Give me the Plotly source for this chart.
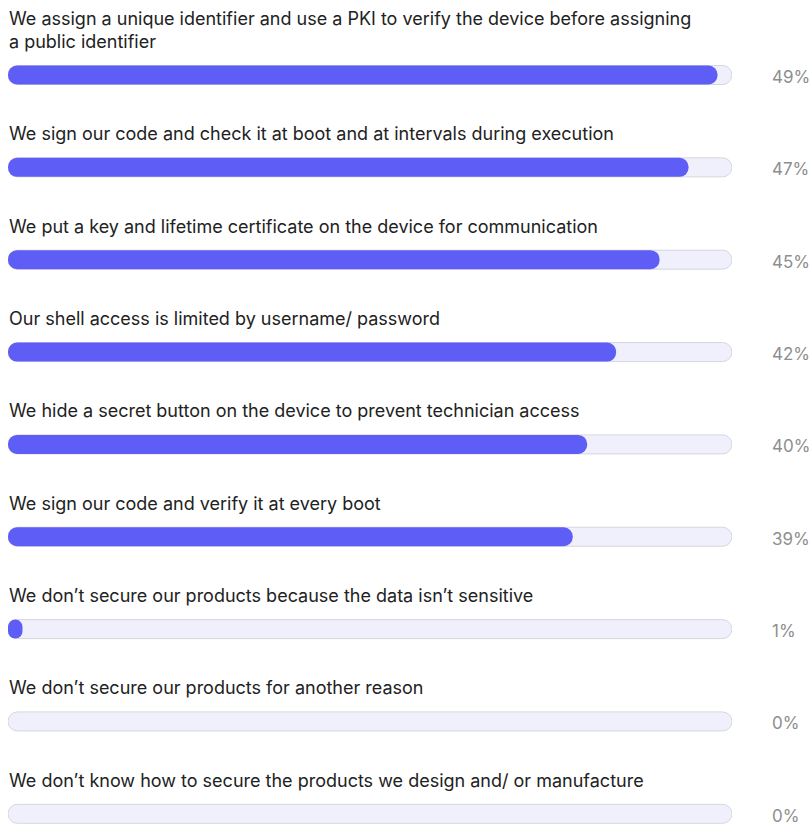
import plotly.graph_objects as go

# Survey answers, top to bottom
statements = [
    "We assign a unique identifier and use a PKI to verify the device before assigning<br>a public identifier",
    "We sign our code and check it at boot and at intervals during execution",
    "We put a key and lifetime certificate on the device for communication",
    "Our shell access is limited by username/ password",
    "We hide a secret button on the device to prevent technician access",
    "We sign our code and verify it at every boot",
    "We don\u2019t secure our products because the data isn\u2019t sensitive",
    "We don\u2019t secure our products for another reason",
    "We don\u2019t know how to secure the products we design and/ or manufacture",
]
shares = [49, 47, 45, 42, 40, 39, 1, 0, 0]
scale_max = 50

W, H = 811, 829
row_px = 92.35
first_px = 75
bar_px = 19

rows = list(range(len(statements)))
y_top = -first_px / row_px
y_bot = (H - first_px) / row_px
thick = bar_px / row_px
zeros = [0] * len(rows)

fig = go.Figure()

# Background track (an explicit base makes plotly round both ends)
fig.add_trace(go.Bar(
    x=[scale_max] * len(rows), base=zeros, y=rows, orientation="h",
    width=thick,
    marker=dict(color="#F0F0FC", line=dict(color="#D6D6DE", width=1), cornerradius=bar_px / 2),
    hoverinfo="skip", showlegend=False,
))

# Filled share
fig.add_trace(go.Bar(
    x=shares, base=zeros, y=rows, orientation="h",
    width=thick,
    marker=dict(color="#5E5EF7", line=dict(width=0), cornerradius=bar_px / 2),
    hoverinfo="skip", showlegend=False,
))

annotations = []
for i, (label, val) in enumerate(zip(statements, shares)):
    annotations.append(dict(
        x=7 / W, xref="paper", y=i - 21 / row_px, yref="y",
        text=label, showarrow=False, xanchor="left", yanchor="bottom",
        align="left", font=dict(family="Inter", size=18, color="#222222"),
    ))
    annotations.append(dict(
        x=770 / W, xref="paper", y=i + 2 / row_px, yref="y",
        text=f"{val}%", showarrow=False, xanchor="left", yanchor="middle",
        font=dict(family="Inter", size=17, color="#8E8E8E"),
    ))

fig.update_layout(
    width=W, height=H,
    margin=dict(l=0, r=0, t=0, b=0),
    paper_bgcolor="white", plot_bgcolor="white",
    barmode="overlay",
    xaxis=dict(range=[0, scale_max], domain=[8 / W, 732 / W], visible=False, fixedrange=True),
    yaxis=dict(range=[y_bot, y_top], visible=False, fixedrange=True),
    annotations=annotations,
)

fig.write_html("out.html")
